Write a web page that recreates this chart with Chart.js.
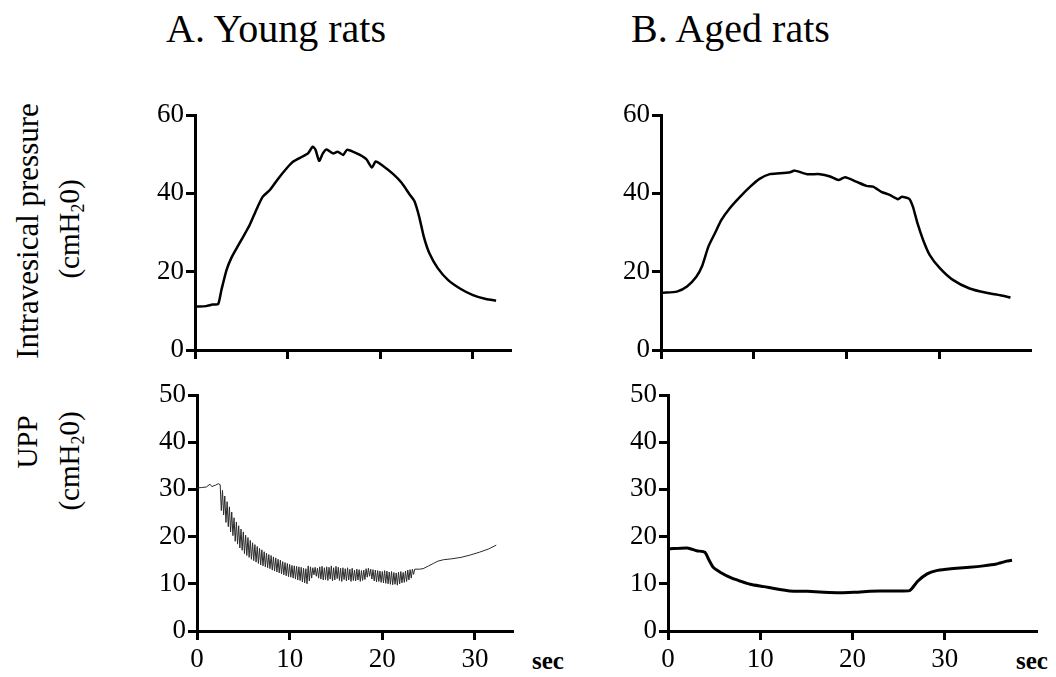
<!DOCTYPE html>
<html lang="en">
<head>
  <meta charset="UTF-8">
  <title>Intravesical pressure and UPP - young vs aged rats</title>
  <script src="https://cdn.jsdelivr.net/npm/chart.js"></script>
  <style>
    body {
      margin: 0;
      background: #ffffff;
      width: 1056px;
      height: 677px;
      position: relative;
      overflow: hidden;
      font-family: "Liberation Serif", "Times New Roman", serif;
      color: #000;
    }
    canvas { position: absolute; }
    .title {
      position: absolute;
      font-size: 40px;
      line-height: 1;
      white-space: nowrap;
    }
    .ylab {
      position: absolute;
      white-space: nowrap;
      line-height: 1;
      transform: translate(-50%, -50%) rotate(-90deg);
    }
    .ylab sub { font-size: 0.62em; vertical-align: -0.25em; }
    .sec {
      position: absolute;
      font-size: 25px;
      font-weight: bold;
      line-height: 1;
    }
  </style>
</head>
<body>

<div class="title" style="left:166px; top:9px;">A. Young rats</div>
<div class="title" style="left:631px; top:9px;">B. Aged rats</div>

<div class="ylab" style="left:27px; top:231px; font-size:31px;">Intravesical pressure</div>
<div class="ylab" style="left:71px; top:229px; font-size:29px;">(cmH<sub>2</sub>0)</div>
<div class="ylab" style="left:27px; top:442px; font-size:29px;">UPP</div>
<div class="ylab" style="left:71px; top:461px; font-size:29px;">(cmH<sub>2</sub>0)</div>

<div class="sec" style="left:532px; top:648px;">sec</div>
<div class="sec" style="left:1016px; top:648px;">sec</div>

<canvas id="youngIvp" width="430" height="275" style="left:100px; top:95px;"></canvas>
<canvas id="agedIvp" width="476" height="275" style="left:580px; top:95px;"></canvas>
<canvas id="youngUpp" width="440" height="302" style="left:100px; top:375px;"></canvas>
<canvas id="agedUpp" width="476" height="302" style="left:580px; top:375px;"></canvas>

<script>
  // A. young rats, intravesical pressure (cmH2O) vs time (s)
  const youngIvpTime = [0.1, 1.2, 1.9, 2.5, 2.85, 3.4, 3.9, 4.5, 5.2, 5.9, 6.6, 7.3, 8.1, 9.0, 9.9, 10.6, 11.6, 12.2, 12.7,
    13.0, 13.4, 13.8, 14.2, 14.9, 15.4, 16.0, 16.4, 17.1, 17.8, 18.5, 19.1, 19.5, 20.3, 21.4, 22.3, 23.2, 23.7,
    24.2, 24.7, 25.3, 26.2, 27.3, 28.6, 30.0, 31.4, 32.5];
  const youngIvpValue = [11.1, 11.2, 11.6, 11.7, 15.3, 20.4, 23.4, 26.0, 28.9, 31.9, 35.7, 39.1, 40.9, 43.8, 46.4, 48.1, 49.4, 50.2, 51.9,
    51.2, 48.3, 50.2, 51.2, 50.2, 50.6, 49.8, 51.1, 50.6, 49.8, 48.7, 46.6, 48.1, 47.0, 44.9, 42.7, 39.6, 37.9,
    34.0, 28.9, 24.7, 20.9, 17.9, 15.7, 14.0, 13.0, 12.6];

  // B. aged rats, intravesical pressure
  const agedIvpTime = [0.2, 1.7, 2.8, 3.8, 4.4, 5.1, 5.8, 6.5, 7.4, 8.5, 9.6, 10.6, 11.7, 12.8, 13.9, 14.4, 15.7, 17.1,
    18.2, 19.1, 19.8, 21.0, 22.1, 22.8, 23.7, 24.6, 25.5, 25.9, 26.7, 27.1, 27.6, 28.2, 28.9, 30.0, 31.4, 33.2, 35.0, 36.5, 37.6];
  const agedIvpValue = [14.6, 14.9, 16.2, 18.7, 21.3, 26.4, 29.8, 33.2, 36.2, 39.1, 41.7, 43.7, 44.9, 45.1, 45.4, 45.8, 44.9, 44.9,
    44.3, 43.4, 44.1, 43.0, 41.9, 41.7, 40.4, 39.6, 38.5, 39.1, 38.6, 36.6, 32.3, 28.1, 24.3, 20.9, 17.9, 15.7, 14.6, 14.0, 13.4];

  // A. young rats, urethral perfusion pressure (fast oscillations while voiding)
  const youngUppTime = [0.0, 0.5, 1.0, 1.4, 1.6, 2.0, 2.3,
    2.5, 2.625, 2.75, 2.875,
    3.0, 3.125, 3.25, 3.375, 3.5, 3.625, 3.75, 3.875,
    4.0, 4.125, 4.25, 4.375, 4.5, 4.625, 4.75, 4.875,
    5.0, 5.125, 5.25, 5.375, 5.5, 5.625, 5.75, 5.875,
    6.0, 6.125, 6.25, 6.375, 6.5, 6.625, 6.75, 6.875,
    7.0, 7.125, 7.25, 7.375, 7.5, 7.625, 7.75, 7.875,
    8.0, 8.125, 8.25, 8.375, 8.5, 8.625, 8.75, 8.875,
    9.0, 9.125, 9.25, 9.375, 9.5, 9.625, 9.75, 9.875,
    10.0, 10.125, 10.25, 10.375, 10.5, 10.625, 10.75, 10.875,
    11.0, 11.125, 11.25, 11.375, 11.5, 11.625, 11.75, 11.875,
    12.0, 12.125, 12.25, 12.375, 12.5, 12.625, 12.75, 12.875,
    13.0, 13.125, 13.25, 13.375, 13.5, 13.625, 13.75, 13.875,
    14.0, 14.125, 14.25, 14.375, 14.5, 14.625, 14.75, 14.875,
    15.0, 15.125, 15.25, 15.375, 15.5, 15.625, 15.75, 15.875,
    16.0, 16.125, 16.25, 16.375, 16.5, 16.625, 16.75, 16.875,
    17.0, 17.125, 17.25, 17.375, 17.5, 17.625, 17.75, 17.875,
    18.0, 18.125, 18.25, 18.375, 18.5, 18.625, 18.75, 18.875,
    19.0, 19.125, 19.25, 19.375, 19.5, 19.625, 19.75, 19.875,
    20.0, 20.125, 20.25, 20.375, 20.5, 20.625, 20.75, 20.875,
    21.0, 21.125, 21.25, 21.375, 21.5, 21.625, 21.75, 21.875,
    22.0, 22.125, 22.25, 22.375, 22.5, 22.625, 22.75, 22.875,
    23.0, 23.125, 23.25, 23.375, 23.5,
    24.0, 24.4, 25.0, 25.5, 26.0, 26.6, 27.5, 28.5, 29.5, 30.5, 31.5, 32.3];
  const youngUppValue = [30.3, 30.4, 30.5, 31.1, 30.6, 30.9, 31.2,
    31.0, 25.5, 29.8, 24.6,
    28.6, 23.0, 27.4, 22.1, 26.3, 21.0, 25.2, 20.2,
    24.0, 19.0, 23.1, 18.4, 22.3, 17.6, 21.6, 17.1,
    21.0, 16.4, 20.3, 16.0, 19.8, 15.6, 19.2, 15.2,
    18.7, 14.9, 18.3, 14.6, 17.9, 14.3, 17.5, 14.0,
    17.2, 13.8, 16.8, 13.6, 16.5, 13.4, 16.2, 13.2,
    16.0, 12.9, 15.7, 12.7, 15.5, 12.5, 15.2, 12.3,
    15.0, 12.1, 14.7, 11.9, 14.5, 11.7, 14.3, 11.5,
    14.1, 11.4, 13.9, 11.2, 13.8, 11.0, 13.7, 10.8,
    13.6, 10.7, 13.5, 10.4, 13.3, 10.2, 13.2, 10.0,
    13.8, 10.6, 13.6, 11.2, 13.4, 11.9, 13.5, 11.6,
    13.3, 11.2, 13.6, 11.0, 13.7, 10.8, 13.4, 10.9,
    13.6, 10.7, 13.5, 11.0, 13.8, 10.6, 13.4, 10.8,
    13.7, 11.1, 13.5, 10.7, 13.3, 10.5, 13.4, 10.9,
    13.2, 10.6, 13.4, 10.8, 13.1, 10.5, 13.3, 10.7,
    12.9, 10.6, 13.1, 10.8, 13.0, 10.5, 12.8, 10.7,
    12.9, 10.9, 13.2, 11.4, 13.3, 11.6, 13.1, 11.0,
    13.0, 10.6, 12.9, 10.4, 12.8, 10.5, 12.7, 10.3,
    12.6, 10.2, 12.8, 10.1, 12.7, 10.0, 12.5, 9.9,
    12.6, 9.8, 12.4, 9.9, 12.3, 9.7, 12.5, 10.0,
    12.6, 10.2, 12.4, 10.3, 12.7, 10.5, 12.9, 10.8,
    13.0, 11.2, 13.1, 12.0, 13.1,
    13.1, 13.2, 13.8, 14.3, 14.8, 15.1, 15.3, 15.6, 16.1, 16.7, 17.4, 18.2];

  // B. aged rats, urethral perfusion pressure
  const agedUppTime = [0.1, 2.1, 3.1, 4.0, 4.4, 4.9, 5.7, 6.8, 7.8, 8.9, 10.4, 11.8, 13.2, 15.1, 16.9, 18.7, 20.1,
    21.9, 24.1, 26.1, 26.4, 27.1, 28.1, 29.1, 30.2, 31.3, 32.7, 34.2, 35.6, 36.7, 37.3];
  const agedUppValue = [17.4, 17.6, 17.0, 16.7, 15.2, 13.5, 12.4, 11.3, 10.6, 9.9, 9.4, 8.9, 8.5, 8.4, 8.2, 8.1, 8.2,
    8.4, 8.5, 8.5, 8.9, 10.6, 12.1, 12.8, 13.1, 13.3, 13.5, 13.8, 14.2, 14.8, 15.0];

  const ivpRange = [0, 60];
  const uppRange = [0, 50];
  const youngSecMax = 34;
  const agedIvpSecMax = 39.7;
  const agedUppSecMax = 39.9;

  const FONT = 'Liberation Serif';

  function points(times, values) {
    return times.map((t, i) => ({ x: t, y: values[i] }));
  }

  function makePanel(id, cfg) {
    const axisGrid = {
      drawOnChartArea: false,
      drawTicks: true,
      tickLength: 9,
      lineWidth: 3,
      color: '#000'
    };
    new Chart(document.getElementById(id), {
      type: 'line',
      data: {
        datasets: [{
          data: points(cfg.times, cfg.values),
          borderColor: cfg.color,
          borderWidth: cfg.lineWidth,
          pointRadius: 0,
          tension: cfg.tension,
          fill: false
        }]
      },
      options: {
        responsive: false,
        animation: false,
        events: [],
        layout: { padding: { top: 20, right: cfg.padRight, bottom: 0, left: 0 } },
        plugins: { legend: { display: false }, tooltip: { enabled: false } },
        scales: {
          x: {
            type: 'linear',
            min: 0,
            max: cfg.xMax,
            border: { display: true, width: 3, color: '#000' },
            grid: axisGrid,
            ticks: {
              display: cfg.showX,
              stepSize: 10,
              includeBounds: false,
              color: '#000',
              padding: 4,
              maxRotation: 0,
              font: { family: FONT, size: 27 }
            },
            afterFit: s => { s.height = cfg.xHeight; }
          },
          y: {
            min: cfg.yRange[0],
            max: cfg.yRange[1],
            border: { display: true, width: 3, color: '#000' },
            grid: axisGrid,
            ticks: {
              stepSize: cfg.yStep,
              color: '#000',
              padding: 2,
              font: { family: FONT, size: 27 }
            },
            afterFit: s => { s.width = cfg.yWidth; }
          }
        }
      }
    });
  }

  makePanel('youngIvp', {
    times: youngIvpTime, values: youngIvpValue, color: '#000', lineWidth: 2.5, tension: 0.2,
    xMax: youngSecMax, yRange: ivpRange, yStep: 20, showX: false,
    yWidth: 95, xHeight: 20, padRight: 20
  });
  makePanel('agedIvp', {
    times: agedIvpTime, values: agedIvpValue, color: '#000', lineWidth: 2.5, tension: 0.2,
    xMax: agedIvpSecMax, yRange: ivpRange, yStep: 20, showX: false,
    yWidth: 81, xHeight: 20, padRight: 26
  });
  makePanel('youngUpp', {
    times: youngUppTime, values: youngUppValue, color: '#2a2a2a', lineWidth: 1, tension: 0,
    xMax: youngSecMax, yRange: uppRange, yStep: 10, showX: true,
    yWidth: 97, xHeight: 46, padRight: 28
  });
  makePanel('agedUpp', {
    times: agedUppTime, values: agedUppValue, color: '#000', lineWidth: 3, tension: 0.2,
    xMax: agedUppSecMax, yRange: uppRange, yStep: 10, showX: true,
    yWidth: 88, xHeight: 46, padRight: 20
  });
</script>

</body>
</html>
